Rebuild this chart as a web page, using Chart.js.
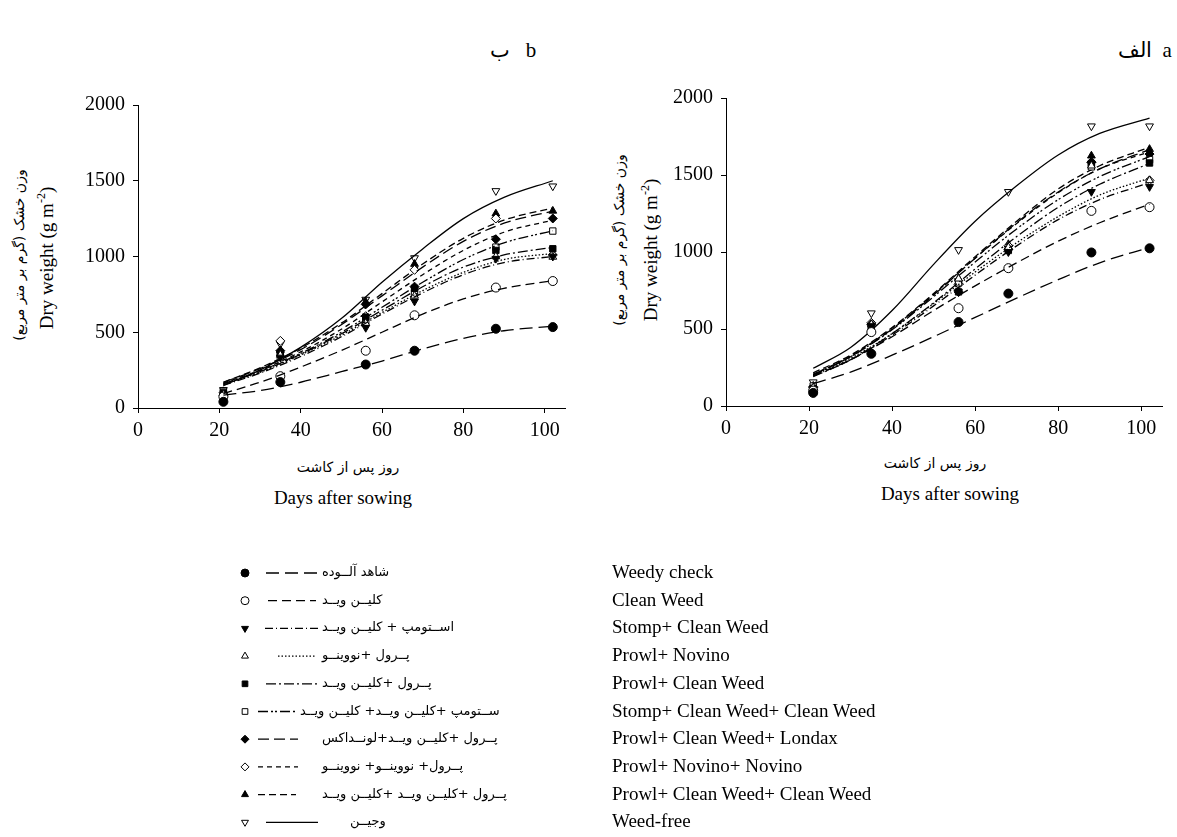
<!DOCTYPE html>
<html>
<head>
<meta charset="utf-8">
<script src="https://cdn.jsdelivr.net/npm/chart.js@4.4.0/dist/chart.umd.min.js"></script>
<style>
  body { margin: 0; background: #fff; width: 1177px; height: 837px; position: relative; overflow: hidden; }
  canvas { position: absolute; }
  .t { position: absolute; white-space: nowrap; color: #000; }
  .serif { font-family: 'Liberation Serif', 'Times New Roman', serif; }
  .fa { font-family: 'DejaVu Sans', sans-serif; direction: rtl; }
  .rot { transform: translate(-50%, -50%) rotate(-90deg); }
  .ctr { transform: translate(-50%, -50%); }
</style>
</head>
<body>
<div class="t serif" style="left:490px;top:38px;font-size:21px;">ب&nbsp;&nbsp;&nbsp;b</div>
<div class="t serif" style="left:1118px;top:38px;font-size:21px;">الف&nbsp;&nbsp;a</div>

<canvas id="chartB" width="500" height="363" style="left:80px;top:85px;"></canvas>
<canvas id="chartA" width="509" height="368" style="left:668px;top:78px;"></canvas>

<!-- y titles -->
<div class="t fa rot" style="left:19px;top:255px;font-size:14px;">وزن خشک (گرم بر متر مربع)</div>
<div class="t serif rot" style="left:46px;top:258px;font-size:19px;">Dry weight (g m<sup style="font-size:12px">-2</sup>)</div>
<div class="t fa rot" style="left:619px;top:240px;font-size:14px;">وزن خشک (گرم بر متر مربع)</div>
<div class="t serif rot" style="left:650px;top:250px;font-size:19px;">Dry weight (g m<sup style="font-size:12px">-2</sup>)</div>

<!-- x titles -->
<div class="t fa ctr" style="left:348px;top:467px;font-size:14px;">روز پس از کاشت</div>
<div class="t serif ctr" style="left:343px;top:498px;font-size:19px;">Days after sowing</div>
<div class="t fa ctr" style="left:935px;top:463px;font-size:14px;">روز پس از کاشت</div>
<div class="t serif ctr" style="left:950px;top:494px;font-size:19px;">Days after sowing</div>

<canvas id="legendMarks" width="140" height="290" style="left:230px;top:553px;"></canvas>
<div id="legendText"></div>

<script>
// روزهای نمونه‌برداری و روزهای منحنی برازش
const days = [21, 35, 56, 68, 88, 102];
const curveDays = [21, 30, 40, 50, 60, 70, 80, 90, 102];

const seriesEn = ['Weedy check', 'Clean Weed', 'Stomp+ Clean Weed', 'Prowl+ Novino', 'Prowl+ Clean Weed',
  'Stomp+ Clean Weed+ Clean Weed', 'Prowl+ Clean Weed+ Londax', 'Prowl+ Novino+ Novino',
  'Prowl+ Clean Weed+ Clean Weed', 'Weed-free'];
const seriesFa = ['شاهد آلــوده', 'کلیــن ویــد', 'اســتومپ + کلیــن ویــد', 'پــرول +نووینــو', 'پــرول +کلیــن ویــد',
  'ســتومپ +کلیــن ویــد+ کلیــن ویــد', 'پــرول +کلیــن ویــد+لونــداکس', 'پــرول+ نووینــو+ نووینــو',
  'پــرول +کلیــن ویــد +کلیــن ویــد', 'وجیــن'];

const xTicks = [0, 20, 40, 60, 80, 100];
const yTicks = [0, 500, 1000, 1500, 2000];

// panel b - observed points
const pointsB = [
  [41, 171, 287, 378, 523, 534],
  [75, 210, 378, 612, 795, 838],
  [70, 334, 530, 704, 986, 1000],
  [90, 350, 560, 740, 1000, 997],
  [100, 360, 600, 790, 1040, 1051],
  [110, 340, 573, 758, 1062, 1168],
  [80, 378, 684, 801, 1114, 1251],
  [100, 443, 606, 912, 1251, 1010],
  [110, 380, 700, 950, 1283, 1301],
  [120, 423, 716, 990, 1433, 1464]
];
// panel b - fitted curves
const curvesB = [
  [85, 115, 170, 240, 310, 390, 460, 510, 540],
  [95, 170, 270, 380, 500, 620, 720, 790, 840],
  [150, 230, 340, 470, 620, 760, 880, 960, 1000],
  [155, 235, 350, 480, 630, 775, 895, 980, 1020],
  [160, 240, 355, 490, 645, 800, 930, 1010, 1060],
  [160, 245, 360, 500, 665, 830, 980, 1090, 1170],
  [170, 260, 385, 550, 740, 930, 1100, 1220, 1300],
  [165, 250, 370, 520, 700, 880, 1040, 1160, 1240],
  [170, 265, 395, 560, 755, 950, 1120, 1240, 1320],
  [150, 250, 400, 590, 830, 1050, 1250, 1390, 1500]
];
// panel a - observed points
const pointsA = [
  [85, 339, 545, 730, 997, 1024],
  [100, 480, 635, 895, 1267, 1291],
  [110, 520, 741, 1000, 1391, 1423],
  [120, 530, 826, 1030, 1560, 1465],
  [115, 500, 741, 1018, 1575, 1578],
  [130, 498, 800, 1010, 1553, 1600],
  [120, 530, 741, 1018, 1583, 1636],
  [125, 540, 790, 1040, 1583, 1465],
  [130, 539, 826, 1050, 1625, 1668],
  [155, 603, 1014, 1391, 1817, 1817]
];
// panel a - fitted curves
const curvesA = [
  [145, 220, 330, 450, 575, 700, 820, 930, 1030],
  [195, 300, 450, 620, 780, 930, 1070, 1190, 1310],
  [195, 300, 460, 650, 850, 1040, 1210, 1340, 1450],
  [200, 310, 470, 665, 870, 1060, 1230, 1370, 1480],
  [190, 300, 470, 670, 890, 1100, 1290, 1440, 1575],
  [200, 320, 495, 710, 935, 1150, 1340, 1490, 1620],
  [205, 320, 500, 720, 960, 1190, 1390, 1540, 1665],
  [205, 325, 505, 725, 960, 1185, 1385, 1540, 1650],
  [215, 330, 510, 730, 970, 1200, 1410, 1560, 1680],
  [245, 380, 620, 920, 1200, 1430, 1630, 1770, 1870]
];

// marker and line styles
const marks = [
  { style: 'circle', rot: 0, fill: true },
  { style: 'circle', rot: 0, fill: false },
  { style: 'triangle', rot: 180, fill: true },
  { style: 'triangle', rot: 0, fill: false },
  { style: 'rect', rot: 0, fill: true },
  { style: 'rect', rot: 0, fill: false },
  { style: 'rectRot', rot: 0, fill: true },
  { style: 'rectRot', rot: 0, fill: false },
  { style: 'triangle', rot: 0, fill: true },
  { style: 'triangle', rot: 180, fill: false }
];
const dashes = [
  [13, 6], [9, 5], [8, 3, 1, 3], [1.5, 2], [10, 3, 2, 3],
  [10, 3, 2, 2, 2, 3], [11, 5], [5, 4], [7, 4], []
];
// legend sample line extents (x from, x to) in legend canvas
const legendLine = [[36, 88], [38, 86], [35, 90], [48, 86], [36, 88], [28, 66], [28, 68], [28, 68], [28, 66], [36, 88]];

const serif = "'Liberation Serif', 'Times New Roman', serif";

function makeChart(id, points, curves) {
    const datasets = [];
    seriesEn.forEach((name, i) => {
        datasets.push({
            label: name + ' fit',
            data: curveDays.map((d, j) => ({ x: d, y: curves[i][j] })),
            showLine: true,
            borderColor: '#000',
            borderWidth: 1.3,
            borderDash: dashes[i],
            pointRadius: 0,
            cubicInterpolationMode: 'monotone',
            fill: false
        });
        datasets.push({
            label: name,
            data: days.map((d, j) => ({ x: d, y: points[i][j] })),
            showLine: false,
            pointStyle: marks[i].style,
            rotation: marks[i].rot,
            pointRadius: 4.5,
            backgroundColor: marks[i].fill ? '#000' : '#fff',
            borderColor: '#000',
            borderWidth: 1
        });
    });

    new Chart(document.getElementById(id), {
        type: 'scatter',
        data: { datasets: datasets },
        options: {
            responsive: false,
            animation: false,
            layout: { padding: { top: 16, right: 15, left: 0, bottom: 0 } },
            plugins: { legend: { display: false }, tooltip: { enabled: false } },
            scales: {
                x: {
                    type: 'linear', min: 0, max: 105,
                    afterBuildTicks: s => { s.ticks = xTicks.map(v => ({ value: v })); },
                    afterFit: s => { s.height = 40; },
                    ticks: { font: { family: serif, size: 20 }, color: '#000', padding: 6, maxRotation: 0,
                             callback: v => String(v) },
                    grid: { drawOnChartArea: false, tickLength: 5, color: '#000' },
                    border: { color: '#000', width: 1 }
                },
                y: {
                    min: 0, max: 2000,
                    afterBuildTicks: s => { s.ticks = yTicks.map(v => ({ value: v })); },
                    afterFit: s => { s.width = 58; },
                    ticks: { font: { family: serif, size: 20 }, color: '#000', padding: 8,
                             callback: v => String(v) },
                    grid: { drawOnChartArea: false, tickLength: 5, color: '#000' },
                    border: { color: '#000', width: 1 }
                }
            }
        }
    });
}

// legend drawn beside the charts
function renderLegend() {
    const ctx = document.getElementById('legendMarks').getContext('2d');
    const holder = document.getElementById('legendText');
    const top = 553;
    seriesEn.forEach((name, i) => {
        const y = 573 + i * 27.7;
        const ly = y - top;
        ctx.save();
        ctx.fillStyle = marks[i].fill ? '#000' : '#fff';
        ctx.strokeStyle = '#000';
        ctx.lineWidth = 1;
        Chart.helpers.drawPoint(ctx, { pointStyle: marks[i].style, rotation: marks[i].rot, radius: 4, borderWidth: 1 }, 15, ly);
        ctx.restore();

        ctx.save();
        ctx.strokeStyle = '#000';
        ctx.lineWidth = 1.3;
        ctx.setLineDash(dashes[i]);
        ctx.beginPath();
        ctx.moveTo(legendLine[i][0], ly);
        ctx.lineTo(legendLine[i][1], ly);
        ctx.stroke();
        ctx.restore();

        const fa = document.createElement('div');
        fa.className = 't fa';
        fa.style.fontSize = '13px';
        fa.style.left = (i === 5 ? 300 : (i === 9 ? 350 : 322)) + 'px';
        fa.style.top = (y - 9) + 'px';
        fa.textContent = seriesFa[i];
        holder.appendChild(fa);

        const en = document.createElement('div');
        en.className = 't serif';
        en.style.fontSize = '19px';
        en.style.left = '612px';
        en.style.top = (y - 12) + 'px';
        en.textContent = name;
        holder.appendChild(en);
    });
}

window.onload = function() {
    makeChart('chartB', pointsB, curvesB);
    makeChart('chartA', pointsA, curvesA);
    renderLegend();
};
</script>
</body>
</html>
